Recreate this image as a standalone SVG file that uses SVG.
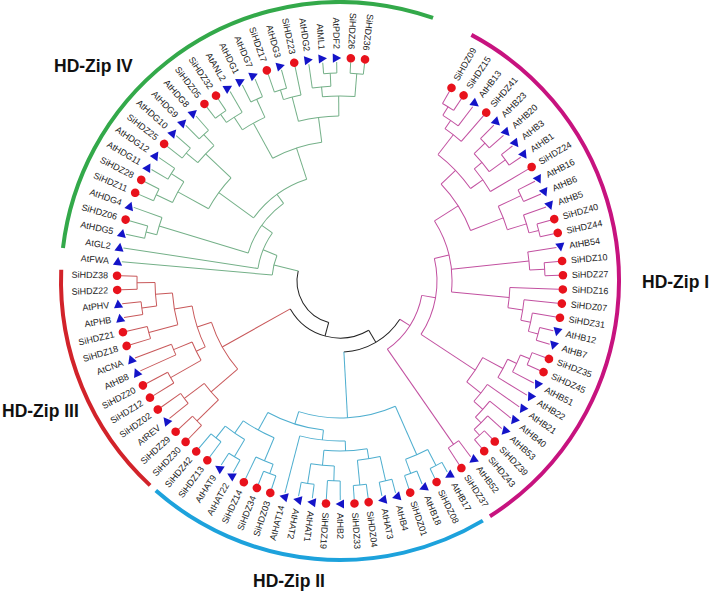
<svg xmlns="http://www.w3.org/2000/svg" xmlns:xlink="http://www.w3.org/1999/xlink" width="709" height="592" viewBox="0 0 709 592">
<style>
.k{stroke:#222}.g{stroke:#74b088}.r{stroke:#c8585a}.b{stroke:#4eaecf}.m{stroke:#c250a0}
#connectors circle,#connectors path{fill:none;stroke-width:1}
.lab{font-family:"Liberation Sans",Arial,sans-serif;font-size:9px;fill:#222;dominant-baseline:central}
.f{text-anchor:end}
.cl{font-family:"Liberation Sans",Arial,sans-serif;font-size:17.5px;font-weight:bold;fill:#111}
.ca{fill:none;stroke-width:4}
.sc{fill:#e8121c}.st{fill:#1414c8}
</style>
<defs>
<circle id="c" cx="0" cy="-223" r="4.3"/>
<path id="t" d="M4.6-223L-3.8-227.6L-3.8-218.4Z"/>
</defs>
<rect width="709" height="592" fill="#fff"/>
<g id="clade-arcs" transform="translate(340 281)">
<circle class="ca" style="stroke:#c7137f" r="279" pathLength="360" stroke-dasharray="119.4 999" transform="rotate(-61.9)"/>
<circle class="ca" style="stroke:#1da2dc" r="279" pathLength="360" stroke-dasharray="72.1 999" transform="rotate(59.2)"/>
<circle class="ca" style="stroke:#d2232a" r="279" pathLength="360" stroke-dasharray="49.4 999" transform="rotate(132.9)"/>
<circle class="ca" style="stroke:#33a94a" r="279" pathLength="360" stroke-dasharray="102.7 999" transform="rotate(186.8)"/>
</g>
<g id="clade-labels">
<text class="cl" x="54" y="72">HD-Zip IV</text>
<text class="cl" x="2" y="417">HD-Zip III</text>
<text class="cl" x="253" y="587">HD-Zip II</text>
<text class="cl" x="642" y="288">HD-Zip I</text>
</g>
<g id="connectors" transform="translate(340 281)">
<circle class="k" r="43" pathLength="360" stroke-dasharray="88.32 999" transform="rotate(105.23)"/>
<path class="k" d="M0-43V-57" transform="rotate(195.23)"/>
<circle class="k" r="57" pathLength="360" stroke-dasharray="91.02 999" transform="rotate(59.72)"/>
<path class="k" d="M0-57V-71" transform="rotate(149.72)"/>
<circle class="k" r="71" pathLength="360" stroke-dasharray="54.28 999" transform="rotate(32.58)"/>
<path class="g" d="M0-43V-68" transform="rotate(283.55)"/>
<path class="r" d="M0-57V-135" transform="rotate(240.74)"/>
<path class="b" d="M0-71V-137" transform="rotate(176.86)"/>
<path class="m" d="M0-71V-83" transform="rotate(122.58)"/>
<!-- magenta -->
<circle class="m" r="205" pathLength="360" stroke-dasharray="3.66 999" transform="rotate(-60)"/>
<path class="m" d="M0-205V-219" transform="rotate(30)"/><path class="m" d="M0-205V-219" transform="rotate(33.66)"/>
<circle class="m" r="195" pathLength="360" stroke-dasharray="5.48 999" transform="rotate(-58.17)"/>
<path class="m" d="M0-195V-205" transform="rotate(31.83)"/><path class="m" d="M0-195V-219" transform="rotate(37.31)"/>
<circle class="m" r="185" pathLength="360" stroke-dasharray="6.40 999" transform="rotate(-55.43)"/>
<path class="m" d="M0-185V-195" transform="rotate(34.57)"/><path class="m" d="M0-185V-219" transform="rotate(40.97)"/>
<circle class="m" r="200" pathLength="360" stroke-dasharray="3.66 999" transform="rotate(-45.37)"/>
<path class="m" d="M0-200V-219" transform="rotate(44.63)"/><path class="m" d="M0-200V-219" transform="rotate(48.29)"/>
<circle class="m" r="205" pathLength="360" stroke-dasharray="3.66 999" transform="rotate(-38.06)"/>
<path class="m" d="M0-205V-219" transform="rotate(51.94)"/><path class="m" d="M0-205V-219" transform="rotate(55.60)"/>
<circle class="m" r="185" pathLength="360" stroke-dasharray="7.31 999" transform="rotate(-43.54)"/>
<path class="m" d="M0-185V-200" transform="rotate(46.46)"/><path class="m" d="M0-185V-205" transform="rotate(53.77)"/>
<circle class="m" r="175" pathLength="360" stroke-dasharray="9.14 999" transform="rotate(-39.88)"/>
<path class="m" d="M0-175V-185" transform="rotate(50.12)"/><path class="m" d="M0-175V-219" transform="rotate(59.26)"/>
<circle class="m" r="160" pathLength="360" stroke-dasharray="16.92 999" transform="rotate(-52.23)"/>
<path class="m" d="M0-160V-185" transform="rotate(37.77)"/><path class="m" d="M0-160V-175" transform="rotate(54.69)"/>
<circle class="m" r="200" pathLength="360" stroke-dasharray="3.66 999" transform="rotate(-27.09)"/>
<path class="m" d="M0-200V-219" transform="rotate(62.91)"/><path class="m" d="M0-200V-219" transform="rotate(66.57)"/>
<circle class="m" r="205" pathLength="360" stroke-dasharray="3.66 999" transform="rotate(-16.12)"/>
<path class="m" d="M0-205V-219" transform="rotate(73.88)"/><path class="m" d="M0-205V-219" transform="rotate(77.54)"/>
<circle class="m" r="195" pathLength="360" stroke-dasharray="5.48 999" transform="rotate(-19.77)"/>
<path class="m" d="M0-195V-219" transform="rotate(70.23)"/><path class="m" d="M0-195V-205" transform="rotate(75.71)"/>
<circle class="m" r="175" pathLength="360" stroke-dasharray="8.23 999" transform="rotate(-25.26)"/>
<path class="m" d="M0-175V-200" transform="rotate(64.74)"/><path class="m" d="M0-175V-195" transform="rotate(72.97)"/>
<circle class="m" r="140" pathLength="360" stroke-dasharray="22.63 999" transform="rotate(-43.77)"/>
<path class="m" d="M0-140V-160" transform="rotate(46.23)"/><path class="m" d="M0-140V-175" transform="rotate(68.86)"/>
<circle class="m" r="205" pathLength="360" stroke-dasharray="3.65 999" transform="rotate(-5.14)"/>
<path class="m" d="M0-205V-219" transform="rotate(84.86)"/><path class="m" d="M0-205V-219" transform="rotate(88.51)"/>
<circle class="m" r="190" pathLength="360" stroke-dasharray="5.49 999" transform="rotate(-8.80)"/>
<path class="m" d="M0-190V-219" transform="rotate(81.20)"/><path class="m" d="M0-190V-205" transform="rotate(86.69)"/>
<circle class="m" r="205" pathLength="360" stroke-dasharray="3.66 999" transform="rotate(13.14)"/>
<path class="m" d="M0-205V-219" transform="rotate(103.14)"/><path class="m" d="M0-205V-219" transform="rotate(106.80)"/>
<circle class="m" r="195" pathLength="360" stroke-dasharray="5.49 999" transform="rotate(9.48)"/>
<path class="m" d="M0-195V-219" transform="rotate(99.48)"/><path class="m" d="M0-195V-205" transform="rotate(104.97)"/>
<circle class="m" r="185" pathLength="360" stroke-dasharray="6.40 999" transform="rotate(5.83)"/>
<path class="m" d="M0-185V-219" transform="rotate(95.83)"/><path class="m" d="M0-185V-195" transform="rotate(102.23)"/>
<circle class="m" r="170" pathLength="360" stroke-dasharray="6.86 999" transform="rotate(2.17)"/>
<path class="m" d="M0-170V-219" transform="rotate(92.17)"/><path class="m" d="M0-170V-185" transform="rotate(99.03)"/>
<circle class="m" r="112" pathLength="360" stroke-dasharray="38.05 999" transform="rotate(-32.45)"/>
<path class="m" d="M0-112V-140" transform="rotate(57.55)"/><path class="m" d="M0-112V-190" transform="rotate(83.95)"/><path class="m" d="M0-112V-170" transform="rotate(95.60)"/>
<circle class="m" r="205" pathLength="360" stroke-dasharray="3.66 999" transform="rotate(20.45)"/>
<path class="m" d="M0-205V-219" transform="rotate(110.45)"/><path class="m" d="M0-205V-219" transform="rotate(114.11)"/>
<circle class="m" r="195" pathLength="360" stroke-dasharray="5.49 999" transform="rotate(22.28)"/>
<path class="m" d="M0-195V-205" transform="rotate(112.28)"/><path class="m" d="M0-195V-219" transform="rotate(117.77)"/>
<circle class="m" r="185" pathLength="360" stroke-dasharray="6.40 999" transform="rotate(25.02)"/>
<path class="m" d="M0-185V-195" transform="rotate(115.02)"/><path class="m" d="M0-185V-219" transform="rotate(121.42)"/>
<circle class="m" r="208" pathLength="360" stroke-dasharray="3.66 999" transform="rotate(46.05)"/>
<path class="m" d="M0-208V-219" transform="rotate(136.05)"/><path class="m" d="M0-208V-219" transform="rotate(139.71)"/>
<circle class="m" r="200" pathLength="360" stroke-dasharray="5.48 999" transform="rotate(42.40)"/>
<path class="m" d="M0-200V-219" transform="rotate(132.40)"/><path class="m" d="M0-200V-208" transform="rotate(137.88)"/>
<circle class="m" r="192" pathLength="360" stroke-dasharray="6.40 999" transform="rotate(38.74)"/>
<path class="m" d="M0-192V-219" transform="rotate(128.74)"/><path class="m" d="M0-192V-200" transform="rotate(135.14)"/>
<circle class="m" r="180" pathLength="360" stroke-dasharray="6.86 999" transform="rotate(35.08)"/>
<path class="m" d="M0-180V-219" transform="rotate(125.08)"/><path class="m" d="M0-180V-192" transform="rotate(131.94)"/>
<circle class="m" r="162" pathLength="360" stroke-dasharray="10.29 999" transform="rotate(28.22)"/>
<path class="m" d="M0-162V-185" transform="rotate(118.22)"/><path class="m" d="M0-162V-180" transform="rotate(128.51)"/>
<circle class="m" r="97" pathLength="360" stroke-dasharray="46.79 999" transform="rotate(-13.42)"/>
<path class="m" d="M0-97V-112" transform="rotate(76.58)"/><path class="m" d="M0-97V-162" transform="rotate(123.37)"/>
<circle class="m" r="199" pathLength="360" stroke-dasharray="3.65 999" transform="rotate(53.37)"/>
<path class="m" d="M0-199V-219" transform="rotate(143.37)"/><path class="m" d="M0-199V-219" transform="rotate(147.02)"/>
<circle class="m" r="83" pathLength="360" stroke-dasharray="45.23 999" transform="rotate(9.97)"/>
<path class="m" d="M0-83V-97" transform="rotate(99.97)"/><path class="m" d="M0-83V-199" transform="rotate(145.20)"/>
<!-- blue -->
<circle class="b" r="208" pathLength="360" stroke-dasharray="3.66 999" transform="rotate(60.68)"/>
<path class="b" d="M0-208V-219" transform="rotate(150.68)"/><path class="b" d="M0-208V-219" transform="rotate(154.34)"/>
<circle class="b" r="205" pathLength="360" stroke-dasharray="3.66 999" transform="rotate(67.99)"/>
<path class="b" d="M0-205V-219" transform="rotate(157.99)"/><path class="b" d="M0-205V-219" transform="rotate(161.65)"/>
<circle class="b" r="190" pathLength="360" stroke-dasharray="7.31 999" transform="rotate(62.51)"/>
<path class="b" d="M0-190V-208" transform="rotate(152.51)"/><path class="b" d="M0-190V-205" transform="rotate(159.82)"/>
<circle class="b" r="205" pathLength="360" stroke-dasharray="3.66 999" transform="rotate(75.31)"/>
<path class="b" d="M0-205V-219" transform="rotate(165.31)"/><path class="b" d="M0-205V-219" transform="rotate(168.97)"/>
<circle class="b" r="205" pathLength="360" stroke-dasharray="3.66 999" transform="rotate(82.62)"/>
<path class="b" d="M0-205V-219" transform="rotate(172.62)"/><path class="b" d="M0-205V-219" transform="rotate(176.28)"/>
<circle class="b" r="180" pathLength="360" stroke-dasharray="7.31 999" transform="rotate(77.14)"/>
<path class="b" d="M0-180V-205" transform="rotate(167.14)"/><path class="b" d="M0-180V-205" transform="rotate(174.45)"/>
<circle class="b" r="200" pathLength="360" stroke-dasharray="3.65 999" transform="rotate(89.94)"/>
<path class="b" d="M0-200V-219" transform="rotate(179.94)"/><path class="b" d="M0-200V-219" transform="rotate(183.59)"/>
<circle class="b" r="205" pathLength="360" stroke-dasharray="3.66 999" transform="rotate(97.25)"/>
<path class="b" d="M0-205V-219" transform="rotate(187.25)"/><path class="b" d="M0-205V-219" transform="rotate(190.91)"/>
<circle class="b" r="185" pathLength="360" stroke-dasharray="7.31 999" transform="rotate(91.77)"/>
<path class="b" d="M0-185V-200" transform="rotate(181.77)"/><path class="b" d="M0-185V-205" transform="rotate(189.08)"/>
<circle class="b" r="170" pathLength="360" stroke-dasharray="14.63 999" transform="rotate(80.80)"/>
<path class="b" d="M0-170V-180" transform="rotate(170.80)"/><path class="b" d="M0-170V-185" transform="rotate(185.43)"/>
<circle class="b" r="160" pathLength="360" stroke-dasharray="16.44 999" transform="rotate(88.12)"/>
<path class="b" d="M0-160V-170" transform="rotate(178.12)"/><path class="b" d="M0-160V-219" transform="rotate(194.56)"/>
<circle class="b" r="205" pathLength="360" stroke-dasharray="3.66 999" transform="rotate(108.22)"/>
<path class="b" d="M0-205V-219" transform="rotate(198.22)"/><path class="b" d="M0-205V-219" transform="rotate(201.88)"/>
<circle class="b" r="195" pathLength="360" stroke-dasharray="5.49 999" transform="rotate(110.05)"/>
<path class="b" d="M0-195V-205" transform="rotate(200.05)"/><path class="b" d="M0-195V-219" transform="rotate(205.54)"/>
<circle class="b" r="205" pathLength="360" stroke-dasharray="3.66 999" transform="rotate(119.19)"/>
<path class="b" d="M0-205V-219" transform="rotate(209.19)"/><path class="b" d="M0-205V-219" transform="rotate(212.85)"/>
<circle class="b" r="200" pathLength="360" stroke-dasharray="3.65 999" transform="rotate(126.51)"/>
<path class="b" d="M0-200V-219" transform="rotate(216.51)"/><path class="b" d="M0-200V-219" transform="rotate(220.16)"/>
<circle class="b" r="185" pathLength="360" stroke-dasharray="7.32 999" transform="rotate(121.02)"/>
<path class="b" d="M0-185V-205" transform="rotate(211.02)"/><path class="b" d="M0-185V-200" transform="rotate(218.34)"/>
<circle class="b" r="170" pathLength="360" stroke-dasharray="11.88 999" transform="rotate(112.80)"/>
<path class="b" d="M0-170V-195" transform="rotate(202.80)"/><path class="b" d="M0-170V-185" transform="rotate(214.68)"/>
<circle class="b" r="150" pathLength="360" stroke-dasharray="22.40 999" transform="rotate(96.34)"/>
<path class="b" d="M0-150V-160" transform="rotate(186.34)"/><path class="b" d="M0-150V-170" transform="rotate(208.74)"/>
<circle class="b" r="137" pathLength="360" stroke-dasharray="41.37 999" transform="rotate(66.17)"/>
<path class="b" d="M0-137V-190" transform="rotate(156.17)"/><path class="b" d="M0-137V-150" transform="rotate(197.54)"/>
<!-- red -->
<circle class="r" r="200" pathLength="360" stroke-dasharray="3.66 999" transform="rotate(133.82)"/>
<path class="r" d="M0-200V-219" transform="rotate(223.82)"/><path class="r" d="M0-200V-219" transform="rotate(227.48)"/>
<circle class="r" r="195" pathLength="360" stroke-dasharray="3.66 999" transform="rotate(141.13)"/>
<path class="r" d="M0-195V-219" transform="rotate(231.13)"/><path class="r" d="M0-195V-219" transform="rotate(234.79)"/>
<circle class="r" r="170" pathLength="360" stroke-dasharray="7.31 999" transform="rotate(135.65)"/>
<path class="r" d="M0-170V-200" transform="rotate(225.65)"/><path class="r" d="M0-170V-195" transform="rotate(232.96)"/>
<circle class="r" r="195" pathLength="360" stroke-dasharray="3.65 999" transform="rotate(148.45)"/>
<path class="r" d="M0-195V-219" transform="rotate(238.45)"/><path class="r" d="M0-195V-219" transform="rotate(242.10)"/>
<circle class="r" r="180" pathLength="360" stroke-dasharray="3.66 999" transform="rotate(155.76)"/>
<path class="r" d="M0-180V-219" transform="rotate(245.76)"/><path class="r" d="M0-180V-219" transform="rotate(249.42)"/>
<circle class="r" r="160" pathLength="360" stroke-dasharray="7.31 999" transform="rotate(150.28)"/>
<path class="r" d="M0-160V-195" transform="rotate(240.28)"/><path class="r" d="M0-160V-180" transform="rotate(247.59)"/>
<circle class="r" r="198" pathLength="360" stroke-dasharray="3.65 999" transform="rotate(163.08)"/>
<path class="r" d="M0-198V-219" transform="rotate(253.08)"/><path class="r" d="M0-198V-219" transform="rotate(256.73)"/>
<circle class="r" r="200" pathLength="360" stroke-dasharray="3.66 999" transform="rotate(170.39)"/>
<path class="r" d="M0-200V-219" transform="rotate(260.39)"/><path class="r" d="M0-200V-219" transform="rotate(264.05)"/>
<circle class="r" r="203" pathLength="360" stroke-dasharray="3.66 999" transform="rotate(177.70)"/>
<path class="r" d="M0-203V-219" transform="rotate(267.70)"/><path class="r" d="M0-203V-219" transform="rotate(271.36)"/>
<circle class="r" r="185" pathLength="360" stroke-dasharray="7.31 999" transform="rotate(172.22)"/>
<path class="r" d="M0-185V-200" transform="rotate(262.22)"/><path class="r" d="M0-185V-203" transform="rotate(269.53)"/>
<circle class="r" r="168" pathLength="360" stroke-dasharray="10.97 999" transform="rotate(164.91)"/>
<path class="r" d="M0-168V-198" transform="rotate(254.91)"/><path class="r" d="M0-168V-185" transform="rotate(265.88)"/>
<circle class="r" r="150" pathLength="360" stroke-dasharray="16.46 999" transform="rotate(153.94)"/>
<path class="r" d="M0-150V-160" transform="rotate(243.94)"/><path class="r" d="M0-150V-168" transform="rotate(260.40)"/>
<circle class="r" r="135" pathLength="360" stroke-dasharray="22.86 999" transform="rotate(139.31)"/>
<path class="r" d="M0-135V-170" transform="rotate(229.31)"/><path class="r" d="M0-135V-150" transform="rotate(252.17)"/>
<!-- green -->
<circle class="g" r="200" pathLength="360" stroke-dasharray="3.66 999" transform="rotate(192.33)"/>
<path class="g" d="M0-200V-219" transform="rotate(282.33)"/><path class="g" d="M0-200V-219" transform="rotate(285.99)"/>
<circle class="g" r="189" pathLength="360" stroke-dasharray="5.49 999" transform="rotate(194.16)"/>
<path class="g" d="M0-189V-200" transform="rotate(284.16)"/><path class="g" d="M0-189V-219" transform="rotate(289.65)"/>
<circle class="g" r="203" pathLength="360" stroke-dasharray="3.66 999" transform="rotate(203.30)"/>
<path class="g" d="M0-203V-219" transform="rotate(293.30)"/><path class="g" d="M0-203V-219" transform="rotate(296.96)"/>
<circle class="g" r="200" pathLength="360" stroke-dasharray="3.66 999" transform="rotate(210.62)"/>
<path class="g" d="M0-200V-219" transform="rotate(300.62)"/><path class="g" d="M0-200V-219" transform="rotate(304.28)"/>
<circle class="g" r="185" pathLength="360" stroke-dasharray="7.32 999" transform="rotate(205.13)"/>
<path class="g" d="M0-185V-203" transform="rotate(295.13)"/><path class="g" d="M0-185V-200" transform="rotate(302.45)"/>
<circle class="g" r="200" pathLength="360" stroke-dasharray="3.66 999" transform="rotate(217.93)"/>
<path class="g" d="M0-200V-219" transform="rotate(307.93)"/><path class="g" d="M0-200V-219" transform="rotate(311.59)"/>
<circle class="g" r="200" pathLength="360" stroke-dasharray="3.65 999" transform="rotate(225.25)"/>
<path class="g" d="M0-200V-219" transform="rotate(315.25)"/><path class="g" d="M0-200V-219" transform="rotate(318.90)"/>
<circle class="g" r="185" pathLength="360" stroke-dasharray="7.32 999" transform="rotate(219.76)"/>
<path class="g" d="M0-185V-200" transform="rotate(309.76)"/><path class="g" d="M0-185V-200" transform="rotate(317.08)"/>
<circle class="g" r="205" pathLength="360" stroke-dasharray="3.66 999" transform="rotate(232.56)"/>
<path class="g" d="M0-205V-219" transform="rotate(322.56)"/><path class="g" d="M0-205V-219" transform="rotate(326.22)"/>
<circle class="g" r="195" pathLength="360" stroke-dasharray="5.49 999" transform="rotate(234.39)"/>
<path class="g" d="M0-195V-205" transform="rotate(324.39)"/><path class="g" d="M0-195V-219" transform="rotate(329.88)"/>
<circle class="g" r="200" pathLength="360" stroke-dasharray="3.66 999" transform="rotate(243.53)"/>
<path class="g" d="M0-200V-219" transform="rotate(333.53)"/><path class="g" d="M0-200V-219" transform="rotate(337.19)"/>
<circle class="g" r="180" pathLength="360" stroke-dasharray="8.22 999" transform="rotate(237.14)"/>
<path class="g" d="M0-180V-195" transform="rotate(327.14)"/><path class="g" d="M0-180V-200" transform="rotate(335.36)"/>
<circle class="g" r="200" pathLength="360" stroke-dasharray="3.65 999" transform="rotate(250.85)"/>
<path class="g" d="M0-200V-219" transform="rotate(340.85)"/><path class="g" d="M0-200V-219" transform="rotate(344.50)"/>
<circle class="g" r="190" pathLength="360" stroke-dasharray="5.48 999" transform="rotate(252.68)"/>
<path class="g" d="M0-190V-200" transform="rotate(342.68)"/><path class="g" d="M0-190V-219" transform="rotate(348.16)"/>
<circle class="g" r="208" pathLength="360" stroke-dasharray="3.65 999" transform="rotate(265.48)"/>
<path class="g" d="M0-208V-219" transform="rotate(355.48)"/><path class="g" d="M0-208V-219" transform="rotate(359.13)"/>
<circle class="g" r="195" pathLength="360" stroke-dasharray="5.49 999" transform="rotate(261.82)"/>
<path class="g" d="M0-195V-219" transform="rotate(351.82)"/><path class="g" d="M0-195V-208" transform="rotate(357.31)"/>
<circle class="g" r="208" pathLength="360" stroke-dasharray="3.65 999" transform="rotate(272.79)"/>
<path class="g" d="M0-208V-219" transform="rotate(362.79)"/><path class="g" d="M0-208V-219" transform="rotate(366.44)"/>
<circle class="g" r="185" pathLength="360" stroke-dasharray="10.05 999" transform="rotate(264.57)"/>
<path class="g" d="M0-185V-195" transform="rotate(354.57)"/><path class="g" d="M0-185V-208" transform="rotate(364.62)"/>
<circle class="g" r="165" pathLength="360" stroke-dasharray="14.17 999" transform="rotate(255.42)"/>
<path class="g" d="M0-165V-190" transform="rotate(345.42)"/><path class="g" d="M0-165V-185" transform="rotate(359.59)"/>
<circle class="g" r="140" pathLength="360" stroke-dasharray="21.26 999" transform="rotate(241.25)"/>
<path class="g" d="M0-140V-180" transform="rotate(331.25)"/><path class="g" d="M0-140V-165" transform="rotate(352.51)"/>
<circle class="g" r="150" pathLength="360" stroke-dasharray="14.63 999" transform="rotate(208.79)"/>
<path class="g" d="M0-150V-185" transform="rotate(298.79)"/><path class="g" d="M0-150V-185" transform="rotate(313.42)"/>
<circle class="g" r="107" pathLength="360" stroke-dasharray="35.78 999" transform="rotate(216.10)"/>
<path class="g" d="M0-107V-150" transform="rotate(306.10)"/><path class="g" d="M0-107V-140" transform="rotate(341.88)"/>
<circle class="g" r="96" pathLength="360" stroke-dasharray="37.08 999" transform="rotate(196.91)"/>
<path class="g" d="M0-96V-189" transform="rotate(286.91)"/><path class="g" d="M0-96V-107" transform="rotate(323.99)"/>
<circle class="g" r="83" pathLength="360" stroke-dasharray="26.77 999" transform="rotate(188.68)"/>
<path class="g" d="M0-83V-219" transform="rotate(278.68)"/><path class="g" d="M0-83V-96" transform="rotate(305.45)"/>
<circle class="g" r="68" pathLength="360" stroke-dasharray="17.05 999" transform="rotate(185.02)"/>
<path class="g" d="M0-68V-219" transform="rotate(275.02)"/><path class="g" d="M0-68V-83" transform="rotate(292.07)"/>
</g>
<g id="leaves" transform="translate(340 281)">
<g id="SiHDZ09"><use href="#c" class="sc" transform="rotate(30)"/><text class="lab" transform="rotate(-60) translate(232)">SiHDZ09</text></g>
<g id="SiHDZ15"><use href="#c" class="sc" transform="rotate(33.66)"/><text class="lab" transform="rotate(-56.34) translate(232)">SiHDZ15</text></g>
<g id="AtHB13"><use href="#t" class="st" transform="rotate(37.31)"/><text class="lab" transform="rotate(-52.69) translate(232)">AtHB13</text></g>
<g id="SiHDZ41"><use href="#c" class="sc" transform="rotate(40.97)"/><text class="lab" transform="rotate(-49.03) translate(232)">SiHDZ41</text></g>
<g id="AtHB23"><use href="#t" class="st" transform="rotate(44.63)"/><text class="lab" transform="rotate(-45.37) translate(232)">AtHB23</text></g>
<g id="AtHB20"><use href="#t" class="st" transform="rotate(48.29)"/><text class="lab" transform="rotate(-41.71) translate(232)">AtHB20</text></g>
<g id="AtHB3"><use href="#t" class="st" transform="rotate(51.94)"/><text class="lab" transform="rotate(-38.06) translate(232)">AtHB3</text></g>
<g id="AtHB1"><use href="#t" class="st" transform="rotate(55.60)"/><text class="lab" transform="rotate(-34.40) translate(232)">AtHB1</text></g>
<g id="SiHDZ24"><use href="#c" class="sc" transform="rotate(59.26)"/><text class="lab" transform="rotate(-30.74) translate(232)">SiHDZ24</text></g>
<g id="AtHB16"><use href="#t" class="st" transform="rotate(62.91)"/><text class="lab" transform="rotate(-27.09) translate(232)">AtHB16</text></g>
<g id="AtHB6"><use href="#t" class="st" transform="rotate(66.57)"/><text class="lab" transform="rotate(-23.43) translate(232)">AtHB6</text></g>
<g id="AtHB5"><use href="#t" class="st" transform="rotate(70.23)"/><text class="lab" transform="rotate(-19.77) translate(232)">AtHB5</text></g>
<g id="SiHDZ40"><use href="#c" class="sc" transform="rotate(73.88)"/><text class="lab" transform="rotate(-16.12) translate(232)">SiHDZ40</text></g>
<g id="SiHDZ44"><use href="#c" class="sc" transform="rotate(77.54)"/><text class="lab" transform="rotate(-12.46) translate(232)">SiHDZ44</text></g>
<g id="AtHB54"><use href="#t" class="st" transform="rotate(81.20)"/><text class="lab" transform="rotate(-8.80) translate(232)">AtHB54</text></g>
<g id="SiHDZ10"><use href="#c" class="sc" transform="rotate(84.86)"/><text class="lab" transform="rotate(-5.14) translate(232)">SiHDZ10</text></g>
<g id="SiHDZ27"><use href="#c" class="sc" transform="rotate(88.51)"/><text class="lab" transform="rotate(-1.49) translate(232)">SiHDZ27</text></g>
<g id="SiHDZ16"><use href="#c" class="sc" transform="rotate(92.17)"/><text class="lab" transform="rotate(2.17) translate(232)">SiHDZ16</text></g>
<g id="SiHDZ07"><use href="#c" class="sc" transform="rotate(95.83)"/><text class="lab" transform="rotate(5.83) translate(232)">SiHDZ07</text></g>
<g id="SiHDZ31"><use href="#c" class="sc" transform="rotate(99.48)"/><text class="lab" transform="rotate(9.48) translate(232)">SiHDZ31</text></g>
<g id="AtHB12"><use href="#t" class="st" transform="rotate(103.14)"/><text class="lab" transform="rotate(13.14) translate(232)">AtHB12</text></g>
<g id="AtHB7"><use href="#t" class="st" transform="rotate(106.80)"/><text class="lab" transform="rotate(16.80) translate(232)">AtHB7</text></g>
<g id="SiHDZ35"><use href="#c" class="sc" transform="rotate(110.45)"/><text class="lab" transform="rotate(20.45) translate(232)">SiHDZ35</text></g>
<g id="SiHDZ45"><use href="#c" class="sc" transform="rotate(114.11)"/><text class="lab" transform="rotate(24.11) translate(232)">SiHDZ45</text></g>
<g id="AtHB51"><use href="#t" class="st" transform="rotate(117.77)"/><text class="lab" transform="rotate(27.77) translate(232)">AtHB51</text></g>
<g id="AtHB22"><use href="#t" class="st" transform="rotate(121.42)"/><text class="lab" transform="rotate(31.42) translate(232)">AtHB22</text></g>
<g id="AtHB21"><use href="#t" class="st" transform="rotate(125.08)"/><text class="lab" transform="rotate(35.08) translate(232)">AtHB21</text></g>
<g id="AtHB40"><use href="#t" class="st" transform="rotate(128.74)"/><text class="lab" transform="rotate(38.74) translate(232)">AtHB40</text></g>
<g id="AtHB53"><use href="#t" class="st" transform="rotate(132.40)"/><text class="lab" transform="rotate(42.40) translate(232)">AtHB53</text></g>
<g id="SiHDZ39"><use href="#c" class="sc" transform="rotate(136.05)"/><text class="lab" transform="rotate(46.05) translate(232)">SiHDZ39</text></g>
<g id="SiHDZ43"><use href="#c" class="sc" transform="rotate(139.71)"/><text class="lab" transform="rotate(49.71) translate(232)">SiHDZ43</text></g>
<g id="AtHB52"><use href="#t" class="st" transform="rotate(143.37)"/><text class="lab" transform="rotate(53.37) translate(232)">AtHB52</text></g>
<g id="SiHDZ37"><use href="#c" class="sc" transform="rotate(147.02)"/><text class="lab" transform="rotate(57.02) translate(232)">SiHDZ37</text></g>
<g id="AtHB17"><use href="#t" class="st" transform="rotate(150.68)"/><text class="lab" transform="rotate(60.68) translate(232)">AtHB17</text></g>
<g id="SiHDZ08"><use href="#c" class="sc" transform="rotate(154.34)"/><text class="lab" transform="rotate(64.34) translate(232)">SiHDZ08</text></g>
<g id="AtHB18"><use href="#t" class="st" transform="rotate(157.99)"/><text class="lab" transform="rotate(67.99) translate(232)">AtHB18</text></g>
<g id="SiHDZ01"><use href="#c" class="sc" transform="rotate(161.65)"/><text class="lab" transform="rotate(71.65) translate(232)">SiHDZ01</text></g>
<g id="AtHB4"><use href="#t" class="st" transform="rotate(165.31)"/><text class="lab" transform="rotate(75.31) translate(232)">AtHB4</text></g>
<g id="AtHAT3"><use href="#t" class="st" transform="rotate(168.97)"/><text class="lab" transform="rotate(78.97) translate(232)">AtHAT3</text></g>
<g id="SiHDZ04"><use href="#c" class="sc" transform="rotate(172.62)"/><text class="lab" transform="rotate(82.62) translate(232)">SiHDZ04</text></g>
<g id="SiHDZ33"><use href="#c" class="sc" transform="rotate(176.28)"/><text class="lab" transform="rotate(86.28) translate(232)">SiHDZ33</text></g>
<g id="AtHB2"><use href="#t" class="st" transform="rotate(179.94)"/><text class="lab" transform="rotate(89.94) translate(232)">AtHB2</text></g>
<g id="SiHDZ19"><use href="#c" class="sc" transform="rotate(183.59)"/><text class="lab" transform="rotate(93.59) translate(232)">SiHDZ19</text></g>
<g id="AtHAT1"><use href="#t" class="st" transform="rotate(187.25)"/><text class="lab" transform="rotate(97.25) translate(232)">AtHAT1</text></g>
<g id="AtHAT2"><use href="#t" class="st" transform="rotate(190.91)"/><text class="lab" transform="rotate(100.91) translate(232)">AtHAT2</text></g>
<g id="AtHAT14"><use href="#t" class="st" transform="rotate(194.56)"/><text class="lab f" transform="rotate(-75.44) translate(-232)">AtHAT14</text></g>
<g id="SiHDZ03"><use href="#c" class="sc" transform="rotate(198.22)"/><text class="lab f" transform="rotate(-71.78) translate(-232)">SiHDZ03</text></g>
<g id="SiHDZ34"><use href="#c" class="sc" transform="rotate(201.88)"/><text class="lab f" transform="rotate(-68.12) translate(-232)">SiHDZ34</text></g>
<g id="SiHDZ14"><use href="#c" class="sc" transform="rotate(205.54)"/><text class="lab f" transform="rotate(-64.46) translate(-232)">SiHDZ14</text></g>
<g id="AtHAT22"><use href="#t" class="st" transform="rotate(209.19)"/><text class="lab f" transform="rotate(-60.81) translate(-232)">AtHAT22</text></g>
<g id="AtHAT9"><use href="#t" class="st" transform="rotate(212.85)"/><text class="lab f" transform="rotate(-57.15) translate(-232)">AtHAT9</text></g>
<g id="SiHDZ13"><use href="#c" class="sc" transform="rotate(216.51)"/><text class="lab f" transform="rotate(-53.49) translate(-232)">SiHDZ13</text></g>
<g id="SiHDZ42"><use href="#c" class="sc" transform="rotate(220.16)"/><text class="lab f" transform="rotate(-49.84) translate(-232)">SiHDZ42</text></g>
<g id="SiHDZ30"><use href="#c" class="sc" transform="rotate(223.82)"/><text class="lab f" transform="rotate(-46.18) translate(-232)">SiHDZ30</text></g>
<g id="SiHDZ29"><use href="#c" class="sc" transform="rotate(227.48)"/><text class="lab f" transform="rotate(-42.52) translate(-232)">SiHDZ29</text></g>
<g id="AtREV"><use href="#t" class="st" transform="rotate(231.13)"/><text class="lab f" transform="rotate(-38.87) translate(-232)">AtREV</text></g>
<g id="SiHDZ02"><use href="#c" class="sc" transform="rotate(234.79)"/><text class="lab f" transform="rotate(-35.21) translate(-232)">SiHDZ02</text></g>
<g id="SiHDZ12"><use href="#c" class="sc" transform="rotate(238.45)"/><text class="lab f" transform="rotate(-31.55) translate(-232)">SiHDZ12</text></g>
<g id="SiHDZ20"><use href="#c" class="sc" transform="rotate(242.10)"/><text class="lab f" transform="rotate(-27.90) translate(-232)">SiHDZ20</text></g>
<g id="AtHB8"><use href="#t" class="st" transform="rotate(245.76)"/><text class="lab f" transform="rotate(-24.24) translate(-232)">AtHB8</text></g>
<g id="AtCNA"><use href="#t" class="st" transform="rotate(249.42)"/><text class="lab f" transform="rotate(-20.58) translate(-232)">AtCNA</text></g>
<g id="SiHDZ18"><use href="#c" class="sc" transform="rotate(253.08)"/><text class="lab f" transform="rotate(-16.92) translate(-232)">SiHDZ18</text></g>
<g id="SiHDZ21"><use href="#c" class="sc" transform="rotate(256.73)"/><text class="lab f" transform="rotate(-13.27) translate(-232)">SiHDZ21</text></g>
<g id="AtPHB"><use href="#t" class="st" transform="rotate(260.39)"/><text class="lab f" transform="rotate(-9.61) translate(-232)">AtPHB</text></g>
<g id="AtPHV"><use href="#t" class="st" transform="rotate(264.05)"/><text class="lab f" transform="rotate(-5.95) translate(-232)">AtPHV</text></g>
<g id="SiHDZ22"><use href="#c" class="sc" transform="rotate(267.70)"/><text class="lab f" transform="rotate(-2.30) translate(-232)">SiHDZ22</text></g>
<g id="SiHDZ38"><use href="#c" class="sc" transform="rotate(271.36)"/><text class="lab f" transform="rotate(1.36) translate(-232)">SiHDZ38</text></g>
<g id="AtFWA"><use href="#t" class="st" transform="rotate(275.02)"/><text class="lab f" transform="rotate(5.02) translate(-232)">AtFWA</text></g>
<g id="AtGL2"><use href="#t" class="st" transform="rotate(278.68)"/><text class="lab f" transform="rotate(8.68) translate(-232)">AtGL2</text></g>
<g id="AtHDG5"><use href="#t" class="st" transform="rotate(282.33)"/><text class="lab f" transform="rotate(12.33) translate(-232)">AtHDG5</text></g>
<g id="SiHDZ06"><use href="#c" class="sc" transform="rotate(285.99)"/><text class="lab f" transform="rotate(15.99) translate(-232)">SiHDZ06</text></g>
<g id="AtHDG4"><use href="#t" class="st" transform="rotate(289.65)"/><text class="lab f" transform="rotate(19.65) translate(-232)">AtHDG4</text></g>
<g id="SiHDZ11"><use href="#c" class="sc" transform="rotate(293.30)"/><text class="lab f" transform="rotate(23.30) translate(-232)">SiHDZ11</text></g>
<g id="SiHDZ28"><use href="#c" class="sc" transform="rotate(296.96)"/><text class="lab f" transform="rotate(26.96) translate(-232)">SiHDZ28</text></g>
<g id="AtHDG11"><use href="#t" class="st" transform="rotate(300.62)"/><text class="lab f" transform="rotate(30.62) translate(-232)">AtHDG11</text></g>
<g id="AtHDG12"><use href="#t" class="st" transform="rotate(304.28)"/><text class="lab f" transform="rotate(34.28) translate(-232)">AtHDG12</text></g>
<g id="SiHDZ25"><use href="#c" class="sc" transform="rotate(307.93)"/><text class="lab f" transform="rotate(37.93) translate(-232)">SiHDZ25</text></g>
<g id="AtHDG10"><use href="#t" class="st" transform="rotate(311.59)"/><text class="lab f" transform="rotate(41.59) translate(-232)">AtHDG10</text></g>
<g id="AtHDG9"><use href="#t" class="st" transform="rotate(315.25)"/><text class="lab f" transform="rotate(45.25) translate(-232)">AtHDG9</text></g>
<g id="AtHDG8"><use href="#t" class="st" transform="rotate(318.90)"/><text class="lab f" transform="rotate(48.90) translate(-232)">AtHDG8</text></g>
<g id="SiHDZ05"><use href="#c" class="sc" transform="rotate(322.56)"/><text class="lab f" transform="rotate(52.56) translate(-232)">SiHDZ05</text></g>
<g id="SiHDZ32"><use href="#c" class="sc" transform="rotate(326.22)"/><text class="lab f" transform="rotate(56.22) translate(-232)">SiHDZ32</text></g>
<g id="AtANL2"><use href="#t" class="st" transform="rotate(329.88)"/><text class="lab f" transform="rotate(59.88) translate(-232)">AtANL2</text></g>
<g id="AtHDG1"><use href="#t" class="st" transform="rotate(333.53)"/><text class="lab f" transform="rotate(63.53) translate(-232)">AtHDG1</text></g>
<g id="AtHDG7"><use href="#t" class="st" transform="rotate(337.19)"/><text class="lab f" transform="rotate(67.19) translate(-232)">AtHDG7</text></g>
<g id="SiHDZ17"><use href="#c" class="sc" transform="rotate(340.85)"/><text class="lab f" transform="rotate(70.85) translate(-232)">SiHDZ17</text></g>
<g id="AtHDG3"><use href="#t" class="st" transform="rotate(344.50)"/><text class="lab f" transform="rotate(74.50) translate(-232)">AtHDG3</text></g>
<g id="SiHDZ23"><use href="#c" class="sc" transform="rotate(348.16)"/><text class="lab f" transform="rotate(78.16) translate(-232)">SiHDZ23</text></g>
<g id="AtHDG2"><use href="#t" class="st" transform="rotate(351.82)"/><text class="lab f" transform="rotate(81.82) translate(-232)">AtHDG2</text></g>
<g id="AtML1"><use href="#t" class="st" transform="rotate(355.48)"/><text class="lab f" transform="rotate(85.48) translate(-232)">AtML1</text></g>
<g id="AtPDF2"><use href="#t" class="st" transform="rotate(359.13)"/><text class="lab f" transform="rotate(89.13) translate(-232)">AtPDF2</text></g>
<g id="SiHDZ26"><use href="#c" class="sc" transform="rotate(362.79)"/><text class="lab f" transform="rotate(92.79) translate(-232)">SiHDZ26</text></g>
<g id="SiHDZ36"><use href="#c" class="sc" transform="rotate(366.44)"/><text class="lab f" transform="rotate(96.44) translate(-232)">SiHDZ36</text></g>
</g>
</svg>
